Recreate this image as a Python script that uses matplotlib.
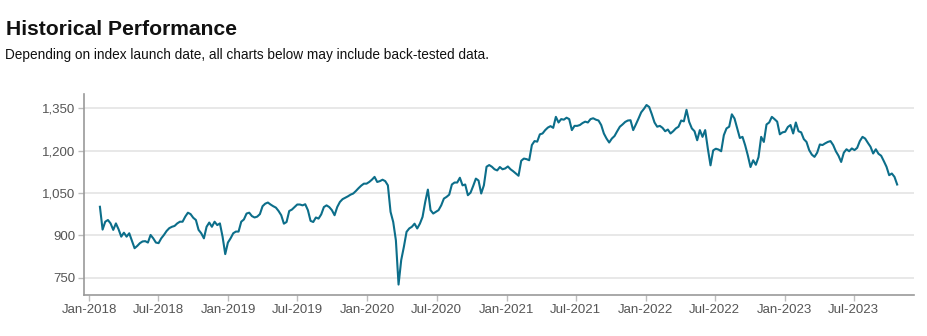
import matplotlib
matplotlib.use("Agg")
import matplotlib.pyplot as plt
import matplotlib.dates as mdates
from matplotlib.ticker import FuncFormatter
import pandas as pd

# Weekly index levels, starting from the first observation
start_date = "2018-01-29"
index_values = [
    1001, 920, 948, 954, 942, 919, 942, 921, 895, 909,
    895, 907, 881, 854, 862, 872, 878, 879, 874, 901,
    889, 874, 872, 889, 901, 915, 925, 930, 933, 942,
    948, 948, 966, 980, 975, 962, 954, 919, 907, 889,
    930, 945, 930, 948, 936, 942, 895, 833, 874, 889,
    907, 913, 913, 948, 956, 977, 980, 968, 963, 966,
    975, 1003,
    1012, 1016, 1009, 1003, 998, 986, 971, 941, 947, 986,
    991, 1000, 1009, 1009, 1006, 1010, 989, 951, 947, 963,
    959, 974, 1000, 1006, 1000, 989, 971, 1000, 1018, 1028,
    1033, 1038, 1044, 1048, 1057, 1067, 1076, 1083, 1083, 1089,
    1097, 1107, 1089, 1092, 1097, 1092, 1077, 983, 947, 882,
    725, 812, 859, 912, 924, 930, 941, 924, 941, 965,
    1018, 1062, 989, 977,
    983, 989, 1006, 1030, 1036, 1044, 1080, 1087, 1087, 1104,
    1077, 1080, 1042, 1051, 1075, 1101, 1094, 1048, 1077, 1143,
    1149, 1143, 1134, 1130, 1142, 1134, 1137, 1144, 1134, 1127,
    1119, 1111, 1164, 1172, 1170, 1166, 1220, 1234, 1232, 1258,
    1261, 1273, 1282, 1287, 1281, 1320, 1300, 1312, 1310, 1317,
    1312, 1273, 1288, 1288, 1291, 1298, 1303, 1300, 1312, 1315,
    1310, 1307, 1291, 1261,
    1243, 1229, 1243, 1252, 1269, 1285, 1293, 1302, 1307, 1308,
    1273, 1293, 1314, 1336, 1348, 1362, 1355, 1329, 1300, 1285,
    1288, 1281, 1269, 1275, 1261, 1269, 1279, 1285, 1307, 1304,
    1345, 1302, 1279, 1269, 1237, 1273, 1249, 1273, 1207, 1148,
    1201, 1207, 1204, 1198, 1255, 1279, 1285, 1329, 1314, 1279,
    1245, 1249, 1219, 1183, 1142, 1166, 1150, 1177, 1249, 1231,
    1293, 1300, 1320, 1312,
    1303, 1258, 1265, 1267, 1284, 1291, 1261, 1300, 1269, 1265,
    1241, 1231, 1202, 1186, 1178, 1193, 1222, 1220, 1226, 1231,
    1234, 1220, 1198, 1182, 1160, 1193, 1205, 1198, 1208, 1202,
    1210, 1234, 1249, 1243, 1228, 1214, 1190, 1205, 1189, 1182,
    1163, 1143, 1113, 1119, 1107, 1080,
]
dates = pd.date_range(start_date, periods=len(index_values), freq="7D")

y_ticks = [750, 900, 1050, 1200, 1350]
x_ticks = pd.date_range("2018-01-01", "2023-07-01", freq="6MS")

title_text = "Historical Performance"
subtitle_text = "Depending on index launch date, all charts below may include back-tested data."

W, H = 928, 336
fig = plt.figure(figsize=(W / 100, H / 100), dpi=100)
left, right, bottom, top = 84.3, 914.3, 295.0, 94.3
ax = fig.add_axes([left / W, 1 - bottom / H, (right - left) / W, (bottom - top) / H])

ax.plot(dates, index_values, color="#0c6e8a", lw=1.5, solid_joinstyle="round")

ax.set_ylim(688, 1400)
ax.set_xlim(pd.Timestamp("2017-12-19"), pd.Timestamp("2023-12-07"))

ax.set_yticks(y_ticks)
ax.yaxis.set_major_formatter(FuncFormatter(lambda v, p: f"{int(v):,}"))
ax.set_xticks(x_ticks)
ax.xaxis.set_major_formatter(mdates.DateFormatter("%b-%Y"))

ax.grid(axis="y", color="#e2e2e2", lw=1.1)
ax.set_axisbelow(True)
for s in ("top", "right"):
    ax.spines[s].set_visible(False)
for s in ("left", "bottom"):
    ax.spines[s].set_color("#9a9a9a")
    ax.spines[s].set_linewidth(1.2)

tick_font = ["Liberation Sans", "DejaVu Sans"]
ax.tick_params(axis="both", length=4, width=1, color="#bdbdbd",
               labelsize=9.5, labelcolor="#555555", pad=2.5)
for lab in ax.get_xticklabels() + ax.get_yticklabels():
    lab.set_family(tick_font)

fig.text(6 / W, 1 - 35 / H, title_text, fontsize=15.2, fontweight="bold",
         family=["Liberation Sans", "DejaVu Sans"],
         color="#111111", va="baseline", ha="left")
fig.text(5 / W, 1 - 59.3 / H, subtitle_text, fontsize=9.8,
         family=["Liberation Sans", "DejaVu Sans"],
         color="#111111", va="baseline", ha="left")

fig.savefig("out.png", dpi=100)
